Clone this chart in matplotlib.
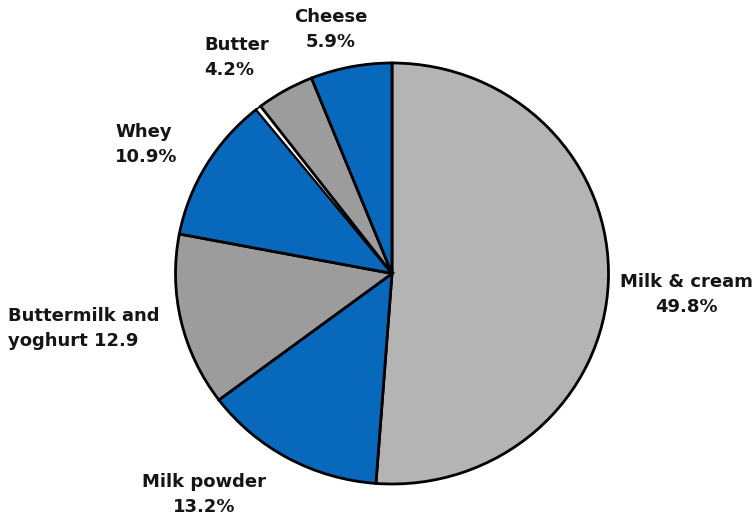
import matplotlib
matplotlib.use("Agg")
import matplotlib.pyplot as plt

categories = ["Milk & cream", "Milk powder", "Buttermilk and yoghurt", "Whey", "", "Butter", "Cheese"]
values = [49.8, 13.2, 12.9, 10.9, 0.4, 4.2, 5.9]
label_lines = [
    ["Milk & cream", "49.8%"],
    ["Milk powder", "13.2%"],
    ["Buttermilk and", "yoghurt 12.9"],
    ["Whey", "10.9%"],
    None,
    ["Butter", "4.2%"],
    ["Cheese", "5.9%"],
]

BLUE = "#0868bb"
LGRAY = "#b4b4b4"
DGRAY = "#9c9c9c"
colors = [LGRAY, BLUE, DGRAY, BLUE, "white", DGRAY, BLUE]

W, H = 752, 516
fig = plt.figure(figsize=(W / 100, H / 100), dpi=100)
ax = fig.add_axes([0, 0, 1, 1])

# pie geometry in pixels (center, radii)
cx, cy, rx, ry = 392, 273.5, 216.5, 210.5

wedges, _ = ax.pie(values, colors=colors, startangle=90, counterclock=False,
                   wedgeprops=dict(edgecolor="black", linewidth=2.0, joinstyle="miter"))
wedges[4].set_linewidth(1.2)
ax.set_aspect("auto")
ax.set_xlim(-cx / rx, (W - cx) / rx)
ax.set_ylim(-(H - cy) / ry, cy / ry)
ax.axis("off")

# label placement (pixel coords: x, y of first line, alignment)
placements = [
    (686, 282, "center"),
    (204, 482, "center"),
    (8, 316, "left"),
    (115, 132, "left"),
    None,
    (204, 45, "left"),
    (331, 17, "center"),
]
line_gap = 25
for lines, pl in zip(label_lines, placements):
    if lines is None:
        continue
    x, y, ha = pl
    for i, t in enumerate(lines):
        fig.text(x / W, 1 - (y + i * line_gap) / H, t, ha=ha, va="center",
                 fontsize=13, fontweight="bold", color="#151515",
                 family="DejaVu Sans")

fig.savefig("out.png", dpi=100)
